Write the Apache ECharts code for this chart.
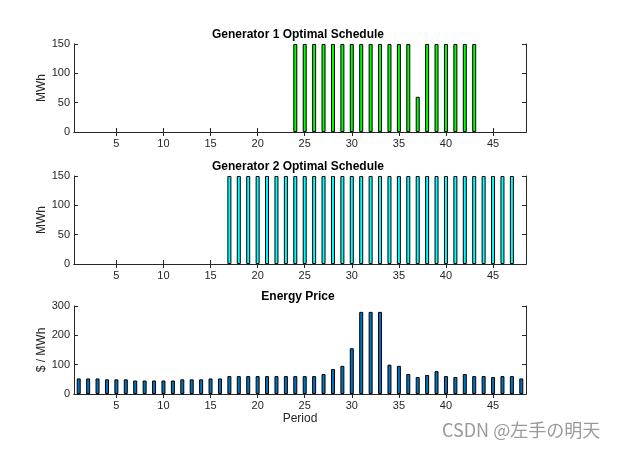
<!DOCTYPE html>
<html>
<head>
<meta charset="utf-8">
<script src="https://cdn.jsdelivr.net/npm/echarts@6.0.0/dist/echarts.min.js"></script>
<style>
  html, body { margin: 0; padding: 0; background: #fff; }
  #chart { width: 624px; height: 451px; }
</style>
</head>
<body>
<div id="chart"></div>
<script>
// 時段 1..48
const periods = [1,2,3,4,5,6,7,8,9,10,11,12,13,14,15,16,17,18,19,20,21,22,23,24,
  25,26,27,28,29,30,31,32,33,34,35,36,37,38,39,40,41,42,43,44,45,46,47,48];

// 發電機 1 排程 (MWh)
const gen1 = [0,0,0,0,0,0,0,0,0,0,0,0,0,0,0,0,0,0,0,0,0,0,0,150,
  150,150,150,150,150,150,150,150,150,150,150,150,60,150,150,150,150,150,150,0,0,0,0,0];

// 發電機 2 排程 (MWh)
const gen2 = [0,0,0,0,0,0,0,0,0,0,0,0,0,0,0,0,150,150,150,150,150,150,150,150,
  150,150,150,150,150,150,150,150,150,150,150,150,150,150,150,150,150,150,150,150,150,150,150,0];

// 電價 ($/MWh)
const price = [53,53,53,50,50,50,46,46,46,46,46,50,50,50,53,53,61,61,61,61,61,61,61,61,
  61,61,68,85,96,156,280,280,280,100,96,68,58,65,78,61,58,68,61,61,58,61,61,53];

const xTicks = [5,10,15,20,25,30,35,40,45];

const titles = ['Generator 1 Optimal Schedule', 'Generator 2 Optimal Schedule', 'Energy Price'];
const yNames = ['MWh', 'MWh', '$ / MWh'];
const yMax = [150, 150, 300];
const yStep = [50, 50, 100];
const colors = ['#00ff00', '#00ffff', '#0072bd'];
const seriesData = [gen1, gen2, price];

const AX = '#262626';
const FONT = 'Liberation Sans, Arial, Helvetica, sans-serif';
const gridTops = [44, 176, 306];

const grid = [], xAxis = [], yAxis = [], series = [], title = [];
gridTops.forEach((top, g) => {
  grid.push({ left: 74, width: 452, top, height: 88 });
  title.push({
    text: titles[g], left: 298, top: top - 15, textAlign: 'center', padding: 0,
    textStyle: { fontSize: 12, fontWeight: 'bold', color: '#000', fontFamily: FONT }
  });
  const xBase = {
    type: 'value', gridIndex: g, min: 0.5, max: 48.5,
    axisLine: { show: true, lineStyle: { color: AX, width: 1 } },
    axisTick: { show: true, inside: true, length: 4, customValues: xTicks, lineStyle: { color: AX } },
    splitLine: { show: false }
  };
  xAxis.push(Object.assign({}, xBase, {
    position: 'bottom',
    axisLabel: { show: true, customValues: xTicks, color: AX, fontSize: 11, fontFamily: FONT, margin: 6 },
    name: g === 2 ? 'Period' : '', nameLocation: 'middle', nameGap: 19,
    nameTextStyle: { color: AX, fontSize: 12, fontFamily: FONT }
  }));
  xAxis.push(Object.assign({}, xBase, { position: 'top', axisLabel: { show: false } }));
  const yBase = {
    type: 'value', gridIndex: g, min: 0, max: yMax[g], interval: yStep[g],
    axisLine: { show: true, lineStyle: { color: AX, width: 1 } },
    axisTick: { show: true, inside: true, length: 4, lineStyle: { color: AX } },
    splitLine: { show: false }
  };
  yAxis.push(Object.assign({}, yBase, {
    position: 'left',
    axisLabel: { color: AX, fontSize: 11, fontFamily: FONT, margin: 4 },
    name: yNames[g], nameLocation: 'middle', nameGap: 26, nameRotate: 90,
    nameMoveOverlap: false,
    nameTextStyle: { color: AX, fontSize: 12, fontFamily: FONT }
  }));
  yAxis.push(Object.assign({}, yBase, { position: 'right', axisLabel: { show: false } }));
  series.push({
    type: 'bar', xAxisIndex: 2 * g, yAxisIndex: 2 * g,
    barWidth: 4,
    // 零值不畫(參考圖中零高度的柱子看不見)
    data: periods.map((p, i) => [p, seriesData[g][i] === 0 ? '-' : seriesData[g][i]]),
    itemStyle: { color: colors[g], borderColor: '#000', borderWidth: 1 },
    silent: true
  });
});

const chart = echarts.init(document.getElementById('chart'), null, { renderer: 'canvas' });
chart.setOption({
  animation: false,
  backgroundColor: '#fff',
  title, grid, xAxis, yAxis, series,
  graphic: [{
    type: 'text', left: 442, top: 421,
    style: { text: 'CSDN @左手の明天', fontSize: 18, fill: '#9a9a9a',
      fontFamily: 'Noto Sans CJK SC, sans-serif' }
  }]
});
</script>
</body>
</html>
